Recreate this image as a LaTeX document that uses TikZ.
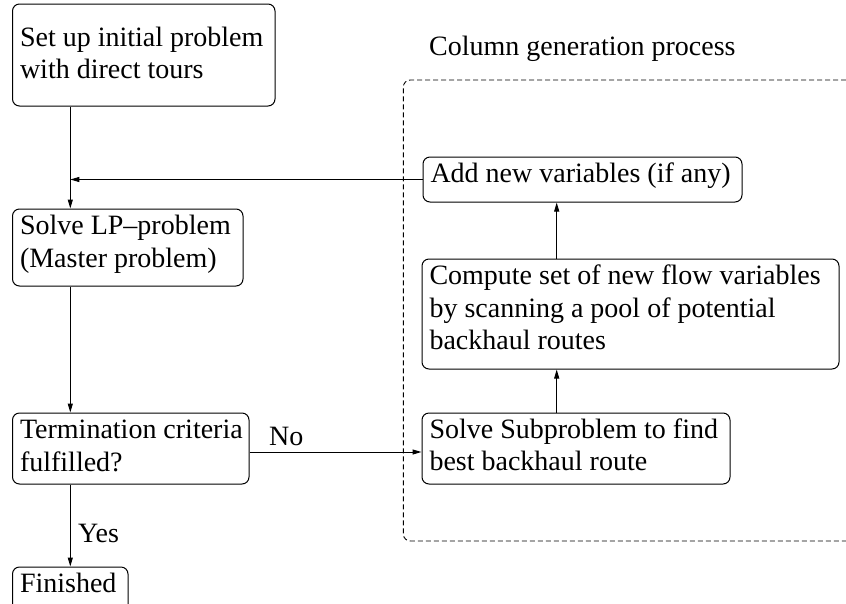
\documentclass[tikz,border=0pt]{standalone}
\usepackage{fontspec}
\setmainfont{Liberation Serif}
\usetikzlibrary{arrows.meta}
\newcommand{\boxtext}[3]{\makebox[#1][l]{\raisebox{#2}[\height][\depth]{\begin{tabular}{@{}l@{}}#3\end{tabular}}}}
\tikzset{
  flowbox/.style={draw, line width=1pt, rounded corners=7pt,
    inner xsep=7.5pt, inner ysep=0pt, anchor=center},
  arr/.style={line width=1pt, -{Triangle[length=9pt,width=5pt]}},
  lbl/.style={anchor=base west, inner sep=0pt},
  groupframe/.style={line width=0.9pt, dash pattern=on 5pt off 3pt, rounded corners=7pt}
}
\begin{document}
\begin{tikzpicture}[x=1pt,y=-1pt,font=\fontsize{28}{32.5}\selectfont]
\clip (0,0) rectangle (846,603);
\coordinate (ax) at (70.3,0);
\coordinate (vx) at (556.7,0);
\coordinate (ny) at (0,452);
% left column
\node[flowbox, minimum width=262.5pt, minimum height=102pt] (b1) at (143.75,55) {\boxtext{247.5pt}{-1pt}{Set up initial problem\\with direct tours}};
\node[flowbox, minimum width=230.5pt, minimum height=77pt] (b2) at (127.75,247.5) {\boxtext{215.5pt}{3pt}{Solve LP–problem\\(Master problem)}};
\node[flowbox, minimum width=236.5pt, minimum height=71pt] (b3) at (130.75,448.5) {\boxtext{221.5pt}{0pt}{Termination criteria\\fulfilled?}};
\node[flowbox, minimum width=115.5pt, minimum height=45pt] (b7) at (70.25,589.5) {\boxtext{100.5pt}{4pt}{Finished}};
% column generation
\node[lbl] (title) at (429,55) {Column generation process};
\draw[groupframe] (870,80) -- (403.3,80) -- (403.3,541) -- (870,541);
\node[flowbox, minimum width=319pt, minimum height=45pt] (b6) at (582.5,179.5) {\boxtext{304pt}{4pt}{Add new variables (if any)}};
\node[flowbox, minimum width=417pt, minimum height=110pt] (b5) at (630.5,314) {\boxtext{402pt}{3.5pt}{Compute set of new flow variables\\by scanning a pool of potential\\backhaul routes}};
\node[flowbox, minimum width=308pt, minimum height=71pt] (b4) at (576,448.5) {\boxtext{293pt}{0.5pt}{Solve Subproblem to find\\best backhaul route}};
% connectors
\draw[arr] (b1.south -| ax) -- (b2.north -| ax);
\draw[arr] (b6.west) -- (b6.west -| ax);
\draw[arr] (b2.south -| ax) -- (b3.north -| ax);
\draw[arr] (b3.east |- ny) -- (b4.west |- ny);
\draw[arr] (b3.south -| ax) -- (b7.north -| ax);
\draw[arr] (b4.north -| vx) -- (b5.south -| vx);
\draw[arr] (b5.north -| vx) -- (b6.south -| vx);
\node[lbl] (no) at (269,445) {No};
\node[lbl] (yes) at (78,542) {Yes};
\end{tikzpicture}
\end{document}
